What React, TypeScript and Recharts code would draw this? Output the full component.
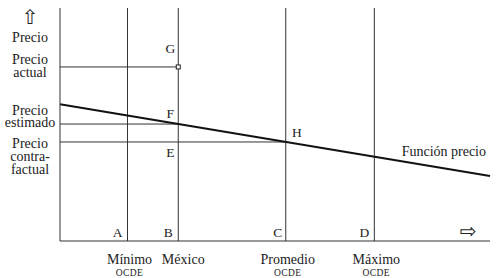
import { ComposedChart, Line, ReferenceDot, ReferenceLine, XAxis, YAxis } from 'recharts'

// positions along the horizontal axis (0-100 scale)
const xLabels = ['Mínimo', 'México', 'Promedio', 'Máximo']
const xSubLabels = ['OCDE', '', 'OCDE', 'OCDE']
const xValues = [15.7, 27.5, 52.5, 73.1]
const xLetters = ['A', 'B', 'C', 'D']

// price levels (0-100 scale)
const yLabels = [['Precio'], ['Precio', 'actual'], ['Precio', 'estimado'], ['Precio', 'contra-', 'factual']]
const yValues = [85.4, 74.7, 50.2, 42.5]

// price function end points
const priceX = [0, 100]
const priceY = [58.7, 27.9]

const priceData = priceX.map((x, i) => ({ x, y: priceY[i] }))

const FONT = '"Liberation Serif", "DejaVu Serif", serif'
const INK = '#222'
const LINE = '#333'
const serif = { fontFamily: FONT }
const LABEL_SIZE = 14

// baseline offsets of each label line, relative to its level
const Y_LABEL_DY = [[0], [-3, 10], [-9, 3], [6, 19, 32]]

function XTick({ x, y, payload }: any) {
  const i = xValues.indexOf(payload.value)
  if (i < 0) return null
  const dx = i === 1 ? 5 : 2
  return (
    <g>
      <text x={x + dx} y={y + 23} textAnchor="middle" style={serif} fontSize={LABEL_SIZE} fill={INK}>
        {xLabels[i]}
      </text>
      {xSubLabels[i] && (
        <text x={x + dx} y={y + 35} textAnchor="middle" style={serif} fontSize={9.5} letterSpacing={0.4} fill={INK}>
          {xSubLabels[i]}
        </text>
      )}
    </g>
  )
}

function YTick({ x, y, payload }: any) {
  const i = yValues.indexOf(payload.value)
  if (i < 0) return null
  return (
    <g>
      {yLabels[i].map((line, j) => (
        <text key={j} x={x - 30} y={y + Y_LABEL_DY[i][j]} textAnchor="middle" style={serif} fontSize={LABEL_SIZE} fill={INK}>
          {line}
        </text>
      ))}
    </g>
  )
}

function letter(ch: string, dx: number, dy: number) {
  return (p: any) => (
    <text x={p.cx + dx} y={p.cy + dy} textAnchor="middle" style={serif} fontSize={13.5} fill={INK}>
      {ch}
    </text>
  )
}

export default function App() {
  const [, B, C] = xValues
  const [, actual, estimado, contra] = yValues
  return (
    <div style={{ position: 'absolute', left: 0, top: 0, background: '#fff' }}>
      <ComposedChart width={496} height={278} margin={{ top: 8, right: 6, left: 0, bottom: 0 }}>
        <XAxis
          dataKey="x"
          type="number"
          domain={[0, 100]}
          ticks={xValues}
          interval={0}
          tick={XTick}
          tickLine={false}
          tickSize={0}
          tickMargin={0}
          height={37}
          axisLine={{ stroke: LINE, strokeWidth: 1 }}
          label={() => (
            <text x={468} y={238} textAnchor="middle" style={{ fontFamily: 'DejaVu Sans' }} fontSize={20} fill={INK}>
              ⇨
            </text>
          )}
        />
        <YAxis
          type="number"
          domain={[0, 100]}
          ticks={yValues}
          interval={0}
          tick={YTick}
          tickLine={false}
          tickSize={0}
          tickMargin={0}
          width={60}
          axisLine={{ stroke: LINE, strokeWidth: 1 }}
          label={() => (
            <text x={30} y={24} textAnchor="middle" style={{ fontFamily: 'DejaVu Sans' }} fontSize={20} fill={INK}>
              ⇧
            </text>
          )}
        />
        {xValues.map((v) => (
          <ReferenceLine key={v} x={v} stroke={LINE} strokeWidth={1} />
        ))}
        <ReferenceLine segment={[{ x: 0, y: actual }, { x: B, y: actual }]} stroke={LINE} strokeWidth={1} />
        <ReferenceLine segment={[{ x: 0, y: estimado }, { x: B, y: estimado }]} stroke={LINE} strokeWidth={1} />
        <ReferenceLine segment={[{ x: 0, y: contra }, { x: C, y: contra }]} stroke={LINE} strokeWidth={1} />
        <Line data={priceData} dataKey="y" stroke="#111" strokeWidth={2} dot={false} isAnimationActive={false} />
        <ReferenceDot
          x={B}
          y={actual}
          r={2}
          shape={(p: any) => <rect x={p.cx - 2} y={p.cy - 2} width={4} height={4} fill="#fff" stroke={INK} strokeWidth={1} />}
        />
        <ReferenceDot x={B} y={actual} r={0} shape={letter('G', -8, -14)} />
        <ReferenceDot x={B} y={estimado} r={0} shape={letter('F', -8, -6)} />
        <ReferenceDot x={B} y={contra} r={0} shape={letter('E', -8, 15)} />
        <ReferenceDot x={C} y={contra} r={0} shape={letter('H', 11, -5)} />
        {xValues.map((v, i) => (
          <ReferenceDot key={xLetters[i]} x={v} y={0} r={0} shape={letter(xLetters[i], i === 2 ? -8 : -10, -4)} />
        ))}
        <ReferenceDot
          x={priceX[1]}
          y={priceY[1]}
          r={0}
          shape={(p: any) => (
            <text x={p.cx - 4} y={p.cy - 20} textAnchor="end" style={serif} fontSize={LABEL_SIZE} fill={INK}>
              Función precio
            </text>
          )}
        />
      </ComposedChart>
    </div>
  )
}
